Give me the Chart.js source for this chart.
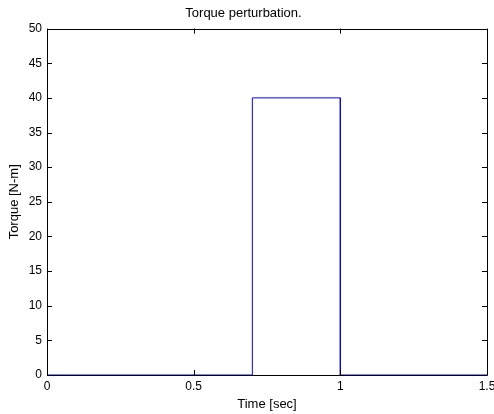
<!DOCTYPE html>
<html>
<head>
<meta charset="utf-8">
<script src="https://cdn.jsdelivr.net/npm/chart.js@4"></script>
<style>
  html, body { margin: 0; padding: 0; background: #fff; }
  #wrap { width: 494px; height: 414px; }
</style>
</head>
<body>
<div id="wrap"><canvas id="myChart" width="494" height="414"></canvas></div>
<script>
// square pulse of torque
const timeValues = [0, 0.7, 0.7, 1.0, 1.0, 1.5];
const torqueValues = [0, 0, 40, 40, 0, 0];
const xTicks = [0, 0.5, 1, 1.5];
const yTicks = [0, 5, 10, 15, 20, 25, 30, 35, 40, 45, 50];

const family = "'Liberation Sans', Arial, sans-serif";
const tickFont = { family: family, size: 12, weight: 'normal' };
const labelFont = { family: family, size: 13, weight: 'normal' };

// MATLAB-like box with inward ticks on all four sides
const boxTicks = {
  id: 'boxTicks',
  afterDraw(chart) {
    const { ctx, chartArea: a, scales } = chart;
    const len = 5;
    ctx.save();
    ctx.strokeStyle = '#000';
    ctx.lineWidth = 1;
    ctx.beginPath();
    ctx.rect(Math.round(a.left) + 0.5, Math.round(a.top) + 0.5,
             Math.round(a.right - a.left), Math.round(a.bottom - a.top));
    xTicks.forEach(v => {
      const x = Math.round(scales.x.getPixelForValue(v)) + 0.5;
      ctx.moveTo(x, a.bottom); ctx.lineTo(x, a.bottom - len);
      ctx.moveTo(x, a.top); ctx.lineTo(x, a.top + len);
    });
    yTicks.forEach(v => {
      const y = Math.round(scales.y.getPixelForValue(v)) + 0.5;
      ctx.moveTo(a.left, y); ctx.lineTo(a.left + len, y);
      ctx.moveTo(a.right, y); ctx.lineTo(a.right - len, y);
    });
    ctx.stroke();
    ctx.restore();
  }
};

new Chart(document.getElementById('myChart').getContext('2d'), {
  type: 'scatter',
  data: {
    datasets: [{
      label: 'Torque',
      data: timeValues.map((t, i) => ({ x: t, y: torqueValues[i] })),
      showLine: true,
      borderColor: '#0000ff',
      borderWidth: 1,
      pointRadius: 0,
      tension: 0
    }]
  },
  options: {
    responsive: false,
    animation: false,
    layout: { padding: { left: 0, right: 7, top: 0, bottom: 0 } },
    plugins: {
      legend: { display: false },
      tooltip: { enabled: false },
      title: {
        display: true,
        text: 'Torque perturbation.',
        color: '#000',
        font: labelFont,
        padding: { top: 6, bottom: 7 }
      }
    },
    scales: {
      x: {
        type: 'linear',
        min: 0,
        max: 1.5,
        afterBuildTicks: s => { s.ticks = xTicks.map(v => ({ value: v })); },
        afterFit: s => { s.height = 39; s.paddingLeft = 0; s.paddingRight = 0; },
        grid: { display: false, drawTicks: false },
        border: { display: false },
        ticks: { color: '#000', font: tickFont, padding: 4, maxRotation: 0, autoSkip: false,
                 callback: v => String(v) },
        title: { display: true, text: 'Time [sec]', color: '#000', font: labelFont, padding: { top: 0, bottom: 2 } }
      },
      y: {
        min: 0,
        max: 50,
        afterBuildTicks: s => { s.ticks = yTicks.map(v => ({ value: v })); },
        afterFit: s => { s.width = 47; },
        grid: { display: false, drawTicks: false },
        border: { display: false },
        ticks: { color: '#000', font: tickFont, padding: 5, autoSkip: false },
        title: { display: true, text: 'Torque [N-m]', color: '#000', font: labelFont, padding: { top: 7, bottom: 0 } }
      }
    }
  },
  plugins: [boxTicks]
});
</script>
</body>
</html>
